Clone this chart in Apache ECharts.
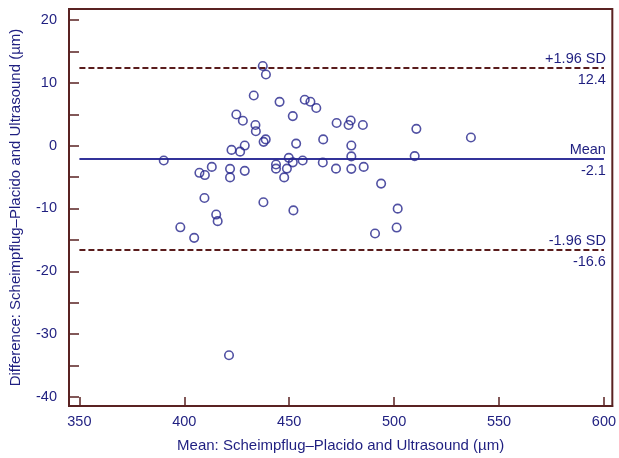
<!DOCTYPE html>
<html>
<head>
<meta charset="utf-8">
<script src="https://cdn.jsdelivr.net/npm/echarts@6/dist/echarts.min.js"></script>
<style>html,body{margin:0;padding:0;background:#fff}#c{width:619px;height:458px}</style>
</head>
<body>
<div id="c"></div>
<script>
// Mean of the two methods (µm)
const meanVals = [390.2,437.4,438.9,433.1,445.4,457.4,460.1,462.9,424.8,427.9,451.7,472.6,433.9,434.1,466.2,438.8,437.8,453.3,428.8,422.5,426.6,449.8,451.7,456.4,466.0,443.7,443.7,448.9,447.6,472.3,413.1,407.2,409.8,421.8,421.8,428.8,409.6,437.7,452.0,415.2,415.9,398.1,404.7,421.3,478.3,479.3,485.1,510.6,536.6,479.6,479.6,509.8,479.6,485.5,493.8,501.7,490.9,501.2];
// Difference between the methods (µm)
const diffVals = [-2.36,12.69,11.33,8.0,6.98,7.31,7.0,6.0,4.96,3.97,4.71,3.62,3.3,2.3,1.0,1.0,0.61,0.33,0.02,-0.67,-0.95,-1.94,-2.65,-2.36,-2.68,-2.99,-3.66,-3.65,-5.05,-3.66,-3.38,-4.32,-4.68,-3.69,-5.05,-4.01,-8.34,-9.01,-10.31,-10.97,-12.02,-13.0,-14.68,-33.38,3.3,4.02,3.3,2.68,1.31,0.02,-1.71,-1.66,-3.69,-3.38,-6.04,-10.03,-13.99,-13.04];
const upperLoA = 12.4;
const meanDiff = -2.1;
const lowerLoA = -16.6;
const lineStart = 350, lineEnd = 600;
const xTickLabels = [350,400,450,500,550,600];
const yTickLabels = [-40,-30,-20,-10,0,10,20];
const yTicks = [-40,-35,-30,-25,-20,-15,-10,-5,0,5,10,15,20];

const navy = '#25258c';
const txt = '#1f1f80';
const brown = '#5a1c1c';
const frame = '#5a2222';
const font = 'Liberation Sans, Arial, sans-serif';
const fs = 14.5;
const fsTitle = 15;

const chart = echarts.init(document.getElementById('c'), null, {renderer:'canvas'});
const pts = meanVals.map((m,i)=>[m, diffVals[i]]);

function refLine(v, top, bottom, style){
  return [
    [{coord:[lineStart, v], lineStyle: style, label:{show:true, position:'insideEndTop', formatter: top, color: txt, fontSize: fs, fontFamily: font, distance: [-2, 1]}},
     {coord:[lineEnd, v]}],
    [{coord:[lineStart, v], lineStyle: {width:1, color:'rgba(0,0,0,0)', type:'solid'}, label:{show:true, position:'insideEndBottom', formatter: bottom, color: txt, fontSize: fs, fontFamily: font, distance: [-2, 5]}},
     {coord:[lineEnd, v]}]
  ];
}
const dashed = {color: brown, width: 2, type: [6,3]};
const solid = {color: '#33339a', width: 2, type: 'solid'};

chart.setOption({
  animation: false,
  grid: {left: 67, right: 4, top: 9, bottom: 45, show: true, borderColor: frame, borderWidth: 2, backgroundColor: 'transparent'},
  xAxis: {
    type: 'value', min: 345.04, max: 604.0,
    axisLine: {show: true, onZero: false, lineStyle: {color: frame, width: 2}},
    axisTick: {show: true, inside: true, length: 9, customValues: xTickLabels, lineStyle: {color: frame, width: 1.5}},
    axisLabel: {customValues: xTickLabels, color: txt, fontSize: fs, fontFamily: font, margin: 8},
    splitLine: {show: false},
    name: 'Mean: Scheimpflug\u2013Placido and Ultrasound (\u00b5m)',
    nameLocation: 'middle', nameGap: 32,
    nameTextStyle: {color: txt, fontSize: fsTitle, fontFamily: font}
  },
  yAxis: {
    type: 'value', min: -41.46, max: 21.77,
    axisLine: {show: true, onZero: false, lineStyle: {color: frame, width: 2}},
    axisTick: {show: true, inside: true, length: 10, customValues: yTicks, lineStyle: {color: frame, width: 1.5}},
    axisLabel: {customValues: yTickLabels, color: txt, fontSize: fs, fontFamily: font, margin: 12},
    splitLine: {show: false},
    name: 'Difference: Scheimpflug\u2013Placido and Ultrasound (\u00b5m)',
    nameLocation: 'middle', nameGap: 46,
    nameTextStyle: {color: txt, fontSize: fsTitle, fontFamily: font}
  },
  series: [{
    type: 'scatter',
    data: pts,
    symbol: 'circle',
    symbolSize: 8.5,
    itemStyle: {color: 'rgba(255,255,255,0)', borderColor: navy, borderWidth: 1.6},
    z: 5,
    markLine: {
      silent: true,
      symbol: ['none','none'],
      z: 2,
      data: [].concat(
        refLine(upperLoA, '+1.96 SD', String(upperLoA), dashed),
        refLine(meanDiff, 'Mean', String(meanDiff), solid),
        refLine(lowerLoA, '-1.96 SD', String(lowerLoA), dashed)
      )
    }
  }]
});
</script>
</body>
</html>
